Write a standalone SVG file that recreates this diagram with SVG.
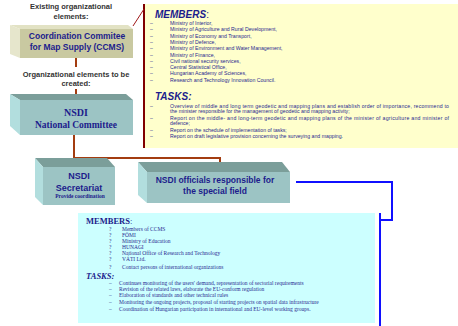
<svg xmlns="http://www.w3.org/2000/svg" width="458" height="326" viewBox="0 0 458 326">
<style>
.lbl{font-family:"Liberation Sans",Arial,sans-serif;font-weight:bold;fill:#333;font-size:7.5px;text-anchor:middle}
.bx{font-family:"Liberation Sans",Arial,sans-serif;font-weight:bold;fill:#1c1c8c;text-anchor:middle}
.bxs{font-family:"Liberation Serif","Times New Roman",serif;font-weight:bold;fill:#1c1c8c;text-anchor:middle}
.yh{font-family:"Liberation Sans",Arial,sans-serif;font-weight:bold;font-style:italic;fill:#1c1c8c;font-size:10px}
.yt{font-family:"Liberation Sans",Arial,sans-serif;fill:#2a2a90;font-size:5.2px}
.ch{font-family:"Liberation Serif","Times New Roman",serif;font-weight:bold;fill:#1c1c8c;font-size:8.5px}
.ct{font-family:"Liberation Serif","Times New Roman",serif;fill:#2a2a90;font-size:5.5px}
.tf{fill:#7b9e9a}.lf{fill:#b2dede}.ff{fill:#9cc4c4}
.red{stroke:#a33c10;stroke-width:2;fill:none}
</style>
<rect width="458" height="326" fill="#fff"/>
<g id="labels">
<text class="lbl" x="71" y="9">Existing organizational</text>
<text class="lbl" x="71" y="19">elements:</text>
<text class="lbl" x="76" y="77">Organizational elements to be</text>
<text class="lbl" x="76" y="86">created:</text>
</g>
<g id="connectors">
<line x1="144" y1="4" x2="144" y2="148" stroke="#800000" stroke-width="2"/>
<line x1="133" y1="26" x2="144" y2="9" stroke="#a01818" stroke-width="1"/>
<line class="red" x1="76" y1="58" x2="76" y2="67"/>
<line class="red" x1="76" y1="89" x2="76" y2="95"/>
<polyline class="red" points="74,135 74,164"/>
<polyline class="red" points="74,158 220,158 220,166"/>
<polyline points="296,182 392,182 392,220 380,220" stroke="#1010ff" stroke-width="2" fill="none"/>
<line x1="380" y1="213" x2="380" y2="326" stroke="#1010ff" stroke-width="2"/>
</g>
<g id="members-panel">
<rect x="145" y="4" width="313" height="144" fill="#ffffcc"/>
<text class="yh" x="155" y="18">MEMBERS<tspan font-style="normal" font-weight="normal">:</tspan></text>
<g class="yt">
<text x="150" y="25">–</text><text x="170" y="25">Ministry of Interior,</text>
<text x="150" y="31.3">–</text><text x="170" y="31.3">Ministry of Agriculture and Rural Development,</text>
<text x="150" y="37.6">–</text><text x="170" y="37.6">Ministry of Economy and Transport,</text>
<text x="150" y="43.9">–</text><text x="170" y="43.9">Ministry of Defence,</text>
<text x="150" y="50.2">–</text><text x="170" y="50.2">Ministry of Environment and Water Management,</text>
<text x="150" y="56.5">–</text><text x="170" y="56.5">Ministry of Finance,</text>
<text x="150" y="62.8">–</text><text x="170" y="62.8">Civil national security services,</text>
<text x="150" y="69.1">–</text><text x="170" y="69.1">Central Statistical Office,</text>
<text x="150" y="75.4">–</text><text x="170" y="75.4">Hungarian Academy of Sciences,</text>
<text x="150" y="81.7">–</text><text x="170" y="81.7">Research and Technology Innovation Council.</text>
</g>
<text class="yh" x="155" y="99.5">TASKS:</text>
<g class="yt">
<text x="150" y="107.5">–</text><text x="170" y="107.5" textLength="279" lengthAdjust="spacing">Overview of middle and long term geodetic and mapping plans and  establish order of importance, recommend to</text>
<text x="170" y="113">the minister responsible for the management of geodetic and mapping activity;</text>
<text x="150" y="119.5">–</text><text x="170" y="119.5" textLength="279" lengthAdjust="spacing">Report on the middle- and long-term geodetic  and mapping plans of the minister of agriculture and minister of</text>
<text x="170" y="125">defence;</text>
<text x="150" y="131.5">–</text><text x="170" y="131.5">Report on the schedule of implementation of tasks;</text>
<text x="150" y="138">–</text><text x="170" y="138">Report on draft legislative provision concerning the surveying and mapping.</text>
</g>
</g>
<g id="ccms">
<polygon points="10,25 128,25 133,29 20,29" fill="#e2e2c4"/>
<polygon points="10,25 20,29 20,58 10,54" fill="#e6e6cc"/>
<rect x="20" y="29" width="113" height="29" fill="#c9c9a1"/>
<text class="bx" x="77" y="38.5" font-size="8.5">Coordination Commitee</text>
<text class="bx" x="77" y="49.5" font-size="8.5">for Map Supply (CCMS)</text>
</g>
<g id="nsdi-committee">
<polygon class="tf" points="10,94 126,94 133,100 20,100"/>
<polygon class="lf" points="10,94 20,100 20,135 10,126"/>
<rect class="ff" x="20" y="100" width="113" height="35"/>
<text class="bxs" x="76" y="116" font-size="10">NSDI</text>
<text class="bxs" x="76" y="128" font-size="9.5">National Committee</text>
</g>
<g id="secretariat">
<polygon class="tf" points="35,158 107,158 115,167 43,167"/>
<polygon class="lf" points="35,158 43,167 43,205 35,197"/>
<rect class="ff" x="43" y="167" width="72" height="38"/>
<text class="bx" x="79" y="178.5" font-size="9">NSDI</text>
<text class="bx" x="79" y="190.5" font-size="9">Secretariat</text>
<text class="bxs" x="80" y="198" font-size="5.5" fill="#111">Provide coordination</text>
</g>
<g id="officials">
<polygon class="tf" points="138,162 282,162 290,172 147,172"/>
<polygon class="lf" points="138,162 147,172 147,203 138,195"/>
<rect class="ff" x="147" y="172" width="143" height="31"/>
<text class="bx" x="215" y="183" font-size="8.5">NSDI officials responsible for</text>
<text class="bx" x="215" y="193.5" font-size="8.5">the  special field</text>
</g>
<g id="officials-panel">
<rect x="78" y="213" width="297" height="110" fill="#ccffff"/>
<text class="ch" x="86" y="224">MEMBERS<tspan font-weight="normal">:</tspan></text>
<g class="ct">
<text x="109" y="231">?</text><text x="122" y="231">Members of CCMS</text>
<text x="109" y="237">?</text><text x="122" y="237">FÖMI</text>
<text x="109" y="243">?</text><text x="122" y="243">Ministry of Education</text>
<text x="109" y="249">?</text><text x="122" y="249">HUNAGI</text>
<text x="109" y="255">?</text><text x="122" y="255">National Office of Research and Technology</text>
<text x="109" y="261">?</text><text x="122" y="261">VÁTI Ltd.</text>
<text x="109" y="269">?</text><text x="122" y="269">Contact persons of international organizations</text>
</g>
<text class="ch" x="86" y="279" font-style="italic">TASKS:</text>
<g class="ct">
<text x="109" y="285">–</text><text x="119" y="285">Continues monitoring of the users' demand, representation of sectorial requirements</text>
<text x="109" y="291">–</text><text x="119" y="291">Revision of the related laws, elaborate the EU-conform regulation</text>
<text x="109" y="297">–</text><text x="119" y="297">Elaboration of standards and other technical rules</text>
<text x="109" y="304">–</text><text x="119" y="304">Monitoring the ongoing projects, proposal of starting projects on spatial data infrastructure</text>
<text x="109" y="311">–</text><text x="119" y="311">Coordination of Hungarian participation in international and EU-level working groups.</text>
</g>
</g>
</svg>
